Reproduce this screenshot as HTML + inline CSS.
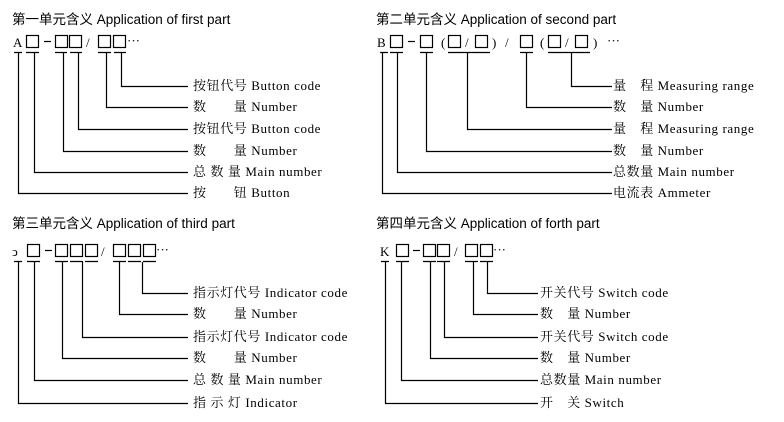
<!DOCTYPE html>
<html><head><meta charset="utf-8"><style>
html,body{margin:0;padding:0;background:#fff;}
svg{display:block}
.t{font-family:"Liberation Sans","Noto Sans CJK SC",sans-serif;font-size:13.5px;fill:#000}
.l{font-family:"Liberation Serif","Noto Serif CJK SC",serif;font-size:13px;letter-spacing:0.6px;fill:#000;white-space:pre}
.c{font-family:"Liberation Serif",serif;font-size:13px;fill:#000}
rect{fill:none;stroke:#000;stroke-width:1.2}
line,path{stroke:#000;stroke-width:1.2;fill:none}
</style></head><body>
<svg width="784" height="422" viewBox="0 0 784 422" xmlns="http://www.w3.org/2000/svg">
<!-- Panel 1 -->
<text class="t" x="12" y="24">第一单元含义 Application of first part</text>
<text class="c" x="13" y="47">A</text>
<rect x="26.5" y="35.5" width="12" height="12"/>
<path d="M44 41.5H51"/>
<rect x="55.5" y="35.5" width="12" height="12"/><rect x="69.5" y="35.5" width="12" height="12"/>
<text class="c" x="86" y="47" fill="#777">/</text>
<rect x="98.5" y="35.5" width="12" height="12"/><rect x="113.5" y="35.5" width="12" height="12"/>
<text class="c" x="127" y="45">···</text>
<path d="M14 52.5H22M26 52.5H39M55 52.5H67M70 52.5H82M98 52.5H111M114 52.5H126"/>
<path d="M121.5 53V86.5H188M106.5 53V107.5H188M78.5 53V129.5H188M63.5 53V151.5H188M34.5 53V172.5H188M18.5 53V193.5H188"/>
<text class="l" x="193" y="90">按钮代号 Button code</text>
<text class="l" x="193" y="111">数　　量 Number</text>
<text class="l" x="193" y="133">按钮代号 Button code</text>
<text class="l" x="193" y="155">数　　量 Number</text>
<text class="l" x="193" y="176">总 数 量 Main number</text>
<text class="l" x="193" y="197">按　　钮 Button</text>

<!-- Panel 2 -->
<text class="t" x="376" y="24">第二单元含义 Application of second part</text>
<text class="c" x="377" y="47">B</text>
<rect x="390.5" y="35.5" width="12" height="12"/>
<path d="M408 41.5H415"/>
<rect x="420.5" y="35.5" width="12" height="12"/>
<text class="c" x="441" y="47">(</text>
<rect x="448.5" y="35.5" width="12" height="12"/>
<text class="c" x="465" y="47" fill="#777">/</text>
<rect x="475.5" y="35.5" width="12" height="12"/>
<text class="c" x="492" y="47">)</text>
<text class="c" x="505" y="47" fill="#777">/</text>
<rect x="520.5" y="35.5" width="12" height="12"/>
<text class="c" x="540" y="47">(</text>
<rect x="548.5" y="35.5" width="12" height="12"/>
<text class="c" x="565" y="47" fill="#777">/</text>
<rect x="575.5" y="35.5" width="12" height="12"/>
<text class="c" x="593" y="47">)</text>
<text class="c" x="607" y="45">···</text>
<path d="M380 52.5H388M390 52.5H403M420 52.5H433M448 52.5H490M520 52.5H533M548 52.5H590"/>
<path d="M571.5 53V86.5H612M526.5 53V107.5H612M467.5 53V129.5H612M426.5 53V151.5H612M397.5 53V172.5H612M382.5 53V193.5H612"/>
<text class="l" x="613" y="90">量　程 Measuring range</text>
<text class="l" x="613" y="111">数　量 Number</text>
<text class="l" x="613" y="133">量　程 Measuring range</text>
<text class="l" x="613" y="155">数　量 Number</text>
<text class="l" x="613" y="176">总数量 Main number</text>
<text class="l" x="613" y="197">电流表 Ammeter</text>

<!-- Panel 3 -->
<text class="t" x="12" y="228">第三单元含义 Application of third part</text>
<text class="c" x="12" y="256">ↄ</text>
<rect x="27.5" y="244.5" width="12" height="12"/>
<path d="M45 250.5H52"/>
<rect x="55.5" y="244.5" width="12" height="12"/><rect x="70.5" y="244.5" width="12" height="12"/><rect x="85.5" y="244.5" width="12" height="12"/>
<text class="c" x="101" y="256" fill="#777">/</text>
<rect x="113.5" y="244.5" width="12" height="12"/><rect x="128.5" y="244.5" width="12" height="12"/><rect x="143.5" y="244.5" width="12" height="12"/>
<text class="c" x="156" y="254">···</text>
<path d="M14 261.5H22M27 261.5H40M55 261.5H68M70 261.5H83M85 261.5H98M113 261.5H126M128 261.5H141M143 261.5H156"/>
<path d="M142.5 262V293.5H188M119.5 262V314.5H188M82.5 262V337.5H188M62.5 262V358.5H188M34.5 262V380.5H188M18.5 262V403.5H188"/>
<text class="l" x="193" y="297">指示灯代号 Indicator code</text>
<text class="l" x="193" y="318">数　　量 Number</text>
<text class="l" x="193" y="341">指示灯代号 Indicator code</text>
<text class="l" x="193" y="362">数　　量 Number</text>
<text class="l" x="193" y="384">总 数 量 Main number</text>
<text class="l" x="193" y="407">指 示 灯 Indicator</text>

<!-- Panel 4 -->
<text class="t" x="376" y="228">第四单元含义 Application of forth part</text>
<text class="c" x="380" y="256">K</text>
<rect x="396.5" y="244.5" width="12" height="12"/>
<path d="M413 250.5H420"/>
<rect x="423.5" y="244.5" width="12" height="12"/><rect x="437.5" y="244.5" width="12" height="12"/>
<text class="c" x="454" y="256" fill="#777">/</text>
<rect x="465.5" y="244.5" width="12" height="12"/><rect x="480.5" y="244.5" width="12" height="12"/>
<text class="c" x="493" y="254">···</text>
<path d="M381 261.5H389M396 261.5H409M423 261.5H436M437 261.5H450M465 261.5H478M480 261.5H493"/>
<path d="M487.5 262V293.5H538M473.5 262V314.5H538M444.5 262V337.5H538M430.5 262V358.5H538M401.5 262V380.5H538M385.5 262V403.5H538"/>
<text class="l" x="540" y="297">开关代号 Switch code</text>
<text class="l" x="540" y="318">数　量 Number</text>
<text class="l" x="540" y="341">开关代号 Switch code</text>
<text class="l" x="540" y="362">数　量 Number</text>
<text class="l" x="540" y="384">总数量 Main number</text>
<text class="l" x="540" y="407">开　关 Switch</text>
</svg>
</body></html>
